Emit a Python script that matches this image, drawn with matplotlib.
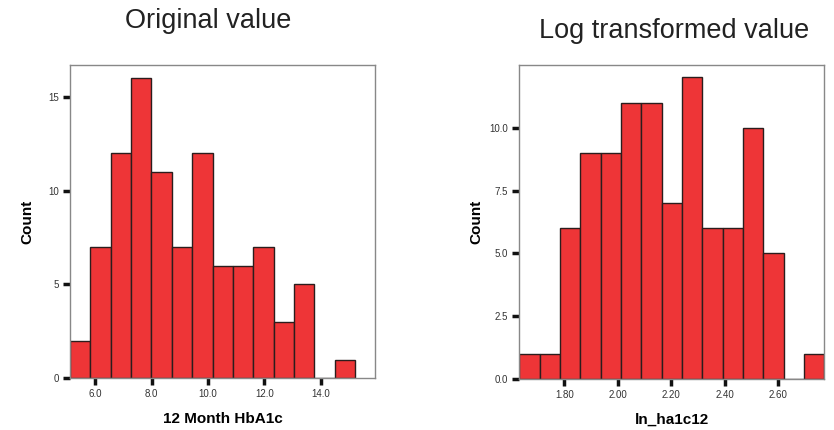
import numpy as np
import matplotlib
matplotlib.use('Agg')
import matplotlib.pyplot as plt

plt.rcParams['font.family'] = ['Liberation Sans', 'DejaVu Sans']

# left panel: 12 month HbA1c
hb_start = 5.10
hb_width = 0.7227
hb_counts = [2, 7, 12, 16, 11, 7, 12, 6, 6, 7, 3, 5, 0, 1]
hb_ticks = [6.0, 8.0, 10.0, 12.0, 14.0]
hb_yticks = [0, 5, 10, 15]

# right panel: ln_ha1c12
ln_start = 1.632
ln_width = 0.0760
ln_counts = [1, 1, 6, 9, 9, 11, 11, 7, 12, 6, 6, 10, 5, 0, 1]
ln_ticks = [1.80, 2.00, 2.20, 2.40, 2.60]
ln_yticks = [0.0, 2.5, 5.0, 7.5, 10.0]

red = '#ee3537'
edge = '#2b1d1d'


def histo(ax, start, width, counts, xticks, yticks, xfmt, yfmt, xlim, ylim, xlabel):
    edges = start + width * np.arange(len(counts) + 1)
    ax.hist(edges[:-1], bins=edges, weights=counts, color=red,
            edgecolor=edge, linewidth=1.0)
    ax.set_xlim(xlim)
    ax.set_ylim(ylim)
    ax.set_xticks(xticks)
    ax.set_xticklabels([xfmt % t for t in xticks])
    ax.set_yticks(yticks)
    ax.set_yticklabels([yfmt % t for t in yticks])
    ax.tick_params(axis='both', length=5, width=2.5, color='#111111',
                   labelsize=7, labelcolor='#333333', pad=3)
    for s in ax.spines.values():
        s.set_color('#888888')
        s.set_linewidth(1.0)
    ax.set_xlabel(xlabel, fontsize=11, fontweight='bold')
    ax.xaxis.set_label_coords(0.5, -0.107)
    ax.set_ylabel('Count', fontsize=11, fontweight='bold')
    ax.yaxis.set_label_coords(-0.117, 0.5)


fig = plt.figure(figsize=(8.34, 4.30), dpi=100)
ax1 = fig.add_axes([0.0839, 0.1202, 0.3657, 0.7293])
ax2 = fig.add_axes([0.6227, 0.1186, 0.3657, 0.7310])

histo(ax1, hb_start, hb_width, hb_counts, hb_ticks, hb_yticks, '%.1f', '%d',
      (5.10, 15.92), (0, 16.7), '12 Month HbA1c')
histo(ax2, ln_start, ln_width, ln_counts, ln_ticks, ln_yticks, '%.2f', '%.1f',
      (1.632, 2.772), (0, 12.51), 'ln_ha1c12')

fig.text(0.2494, 0.935, 'Original value', ha='center', va='baseline',
         fontsize=19.5, color='#222222')
fig.text(0.8087, 0.912, 'Log transformed value', ha='center', va='baseline',
         fontsize=19.5, color='#222222')

fig.savefig('out.png', dpi=100)
